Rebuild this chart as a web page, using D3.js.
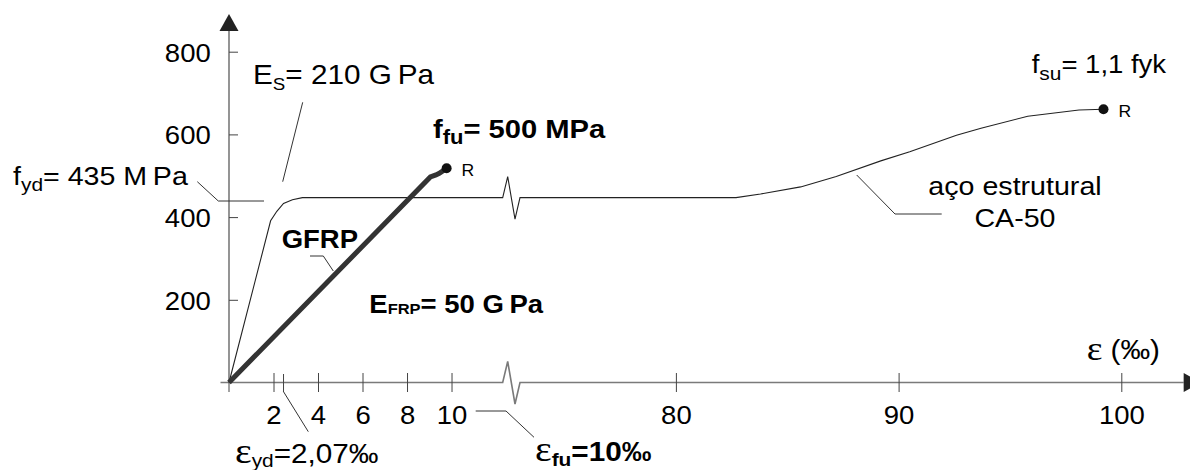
<!DOCTYPE html>
<html>
<head>
<meta charset="utf-8">
<script src="https://cdn.jsdelivr.net/npm/d3@7"></script>
<style>
  body { margin: 0; background: #fff; }
  text { font-family: "Liberation Sans", Arial, sans-serif; fill: #000; }
</style>
</head>
<body>
<div id="chart"></div>
<script>
// strain in per mille, stress in MPa
var strainTicks = [2, 4, 6, 8, 10, 80, 90, 100];
var stressTicks = [200, 400, 600, 800];
var epsYdTick = 2.45;

// steel CA-50, before and after the axis break
var steelStrainA = [0, 1.87, 2.15, 2.45, 2.85, 3.3, 12.3];
var steelStressA = [0, 391, 414, 433, 442, 447, 447];
var steelStrainB = [73, 82.7, 83.8, 85.6, 87.2, 89.2, 90.5, 92.6, 93.7, 95.8, 98.1, 99.2];
var steelStressB = [447, 447, 456, 473, 498, 536, 558, 598, 615, 644, 659, 661];

// GFRP
var gfrpStrain = [0, 9.05, 9.3, 9.45, 9.78];
var gfrpStress = [0, 497, 502, 506, 518];

var breakFrom = 12.3, breakTo = 73;

var svgWidth = 1190;
var svgHeight = 470;

var svg = d3.select("#chart")
  .append("svg")
  .attr("width", svgWidth)
  .attr("height", svgHeight);

// broken x scale: 0..12.3 then 73..100
var x = d3.scaleLinear()
  .domain([0, breakFrom, breakTo, 100])
  .range([229, 502.7, 520, 1121.3]);

var y = d3.scaleLinear()
  .domain([0, 800])
  .range([382.5, 51.7]);

var x0 = x(0), y0 = y(0);

// zigzag for the break
function zig(bx, by) {
  return [[bx, by], [bx + 5, by - 21], [bx + 12.3, by + 21.5], [x(breakTo), by]];
}

var line = d3.line();

// ---- axes ----
var axisColor = "#7a7a7a";

// x axis line with break
var xAxisPts = [[x0 - 8.5, y0]].concat(zig(x(breakFrom), y0)).concat([[x(102.8), y0]]);
svg.append("path")
  .attr("d", line(xAxisPts))
  .attr("fill", "none")
  .attr("stroke", axisColor)
  .attr("stroke-width", 1.6);

svg.append("line")
  .attr("x1", x0).attr("x2", x0)
  .attr("y1", y0).attr("y2", y(850))
  .attr("stroke", axisColor)
  .attr("stroke-width", 1.6);

// arrows
svg.append("path")
  .attr("d", `M${x0 - 9.5},${y(850)}L${x0 + 9.5},${y(850)}L${x0},${y(850) - 17}Z`)
  .attr("fill", "#222");
svg.append("path")
  .attr("d", `M${x(102.8)},${y0 - 9.5}L${x(102.8)},${y0 + 9.5}L${x(102.8) + 17},${y0}Z`)
  .attr("fill", "#222");

var xAxis = d3.axisBottom(x)
  .tickValues(strainTicks)
  .tickSize(9.5)
  .tickPadding(14.5)
  .tickFormat(d3.format("d"));

var gx = svg.append("g")
  .attr("transform", `translate(0, ${y0})`)
  .call(xAxis);
gx.select(".domain").remove();
gx.selectAll(".tick line").attr("y1", -9.5).attr("stroke", "#444");
gx.selectAll(".tick text")
  .attr("font-family", "Liberation Sans, Arial, sans-serif")
  .attr("font-size", 25)
  .attr("transform", "scale(1.1,1)")
  .attr("fill", "#000");

// zero tick and eps_yd tick
svg.append("line")
  .attr("x1", x0).attr("x2", x0).attr("y1", y0).attr("y2", y0 + 9.5)
  .attr("stroke", "#444");
svg.append("line")
  .attr("x1", x(epsYdTick)).attr("x2", x(epsYdTick)).attr("y1", y0 - 8.5).attr("y2", y0 + 9.5)
  .attr("stroke", "#444");

var yAxis = d3.axisLeft(y)
  .tickValues(stressTicks)
  .tickSize(8)
  .tickPadding(10.3);

var gy = svg.append("g")
  .attr("transform", `translate(${x0}, 0)`)
  .call(yAxis);
gy.select(".domain").remove();
gy.selectAll(".tick line").attr("x2", 9).attr("stroke", "#444");
gy.selectAll(".tick text")
  .attr("font-family", "Liberation Sans, Arial, sans-serif")
  .attr("font-size", 25)
  .attr("x", -18.3 / 1.1)
  .attr("dy", "0.38em")
  .attr("transform", "scale(1.1,1)")
  .attr("fill", "#000");

// ---- curves ----
var steelPts = steelStrainA.map((d, i) => [x(d), y(steelStressA[i])]);
steelPts.pop();
steelPts = steelPts
  .concat(zig(x(breakFrom), y(447)))
  .concat(steelStrainB.slice(1).map((d, i) => [x(d), y(steelStressB[i + 1])]));

svg.append("path")
  .attr("d", line(steelPts))
  .attr("fill", "none")
  .attr("stroke", "#222")
  .attr("stroke-width", 1.1);

svg.append("path")
  .attr("d", line(gfrpStrain.map((d, i) => [x(d), y(gfrpStress[i])])))
  .attr("fill", "none")
  .attr("stroke", "#333")
  .attr("stroke-width", 5)
  .attr("stroke-linejoin", "miter");

var ends = [
  [gfrpStrain[gfrpStrain.length - 1], gfrpStress[gfrpStress.length - 1]],
  [steelStrainB[steelStrainB.length - 1], steelStressB[steelStressB.length - 1]]
];
svg.selectAll("circle.end")
  .data(ends)
  .enter()
  .append("circle")
  .attr("class", "end")
  .attr("cx", d => x(d[0]))
  .attr("cy", d => y(d[1]))
  .attr("r", 5)
  .attr("fill", "#111");

svg.selectAll("text.r")
  .data(ends)
  .enter()
  .append("text")
  .attr("class", "r")
  .attr("transform", d => `translate(${x(d[0]) + 15},${y(d[1]) + 8}) scale(1.1,1)`)
  .attr("font-size", 16)
  .text("R");

// ---- leader lines ----
var leaders = [
  [[302.7, 102.3], [282.7, 181.7]],
  [[197.3, 181.7], [218.3, 201], [264, 201]],
  [[310, 256], [323.3, 256], [333.3, 271]],
  [[856.7, 175], [895, 214], [941.7, 214]],
  [[x(epsYdTick), 391.7], [308.3, 431.7]],
  [[475.7, 411], [506, 411], [534, 437.3]]
];
svg.selectAll("path.leader")
  .data(leaders)
  .enter()
  .append("path")
  .attr("class", "leader")
  .attr("d", line)
  .attr("fill", "none")
  .attr("stroke", "#333")
  .attr("stroke-width", 1);

// ---- labels ----
function label(px, py, parts, opts) {
  opts = opts || {};
  var t = svg.append("text")
    .attr("transform", `translate(${px},${py}) scale(1.1,1)`)
    .attr("font-size", opts.size || 26)
    .attr("font-weight", opts.bold ? "bold" : null)
    .attr("text-anchor", opts.anchor || "start");
  var shift = 0;
  parts.forEach(p => {
    var s = t.append("tspan").text(p.t);
    var d = (p.dy || 0) - shift;
    if (d) s.attr("dy", d);
    shift = p.dy || 0;
    if (p.size) s.attr("font-size", p.size);
    if (p.font) s.attr("font-family", p.font);
    if (p.weight) s.attr("font-weight", p.weight);
  });
  return t;
}

var serif = "Liberation Serif, Times New Roman, serif";

label(253, 84, [{t: "E"}, {t: "S", size: 17, dy: 6}, {t: "= 210 G\u2009Pa"}], {size: 27});
label(13, 185, [{t: "f"}, {t: "yd", size: 19, dy: 6}, {t: "= 435 M\u2009Pa"}]);
label(433, 138.3, [{t: "f"}, {t: "fu", size: 20, dy: 6}, {t: "= 500 MPa"}], {bold: true, size: 26.5});
label(281.7, 248.3, [{t: "GFRP"}], {bold: true, size: 25});
label(369.3, 313, [{t: "E"}, {t: "FRP", size: 15, dy: 1}, {t: "= 50 G\u2009Pa"}], {bold: true, size: 25});
label(1031.7, 73.3, [{t: "f"}, {t: "su", size: 19, dy: 7}, {t: "= 1,1 fyk"}], {size: 25});
label(1015, 195, [{t: "aço estrutural"}], {anchor: "middle"});
label(1015, 226.7, [{t: "CA-50"}], {anchor: "middle"});

label(1086.7, 359.5, [{t: "\u03b5", font: serif}], {size: 34});
label(1110.5, 358.5, [{t: "(‰)"}], {size: 27});

label(235, 463.3, [{t: "\u03b5", font: serif, size: 36}, {t: "yd", size: 19, dy: 3.5}, {t: "=2,07‰"}], {size: 27});
label(535, 461, [{t: "\u03b5", font: serif, size: 36, weight: "normal"}, {t: "fu", size: 19, dy: 5}, {t: "=10‰"}], {bold: true, size: 27});
</script>
</body>
</html>
